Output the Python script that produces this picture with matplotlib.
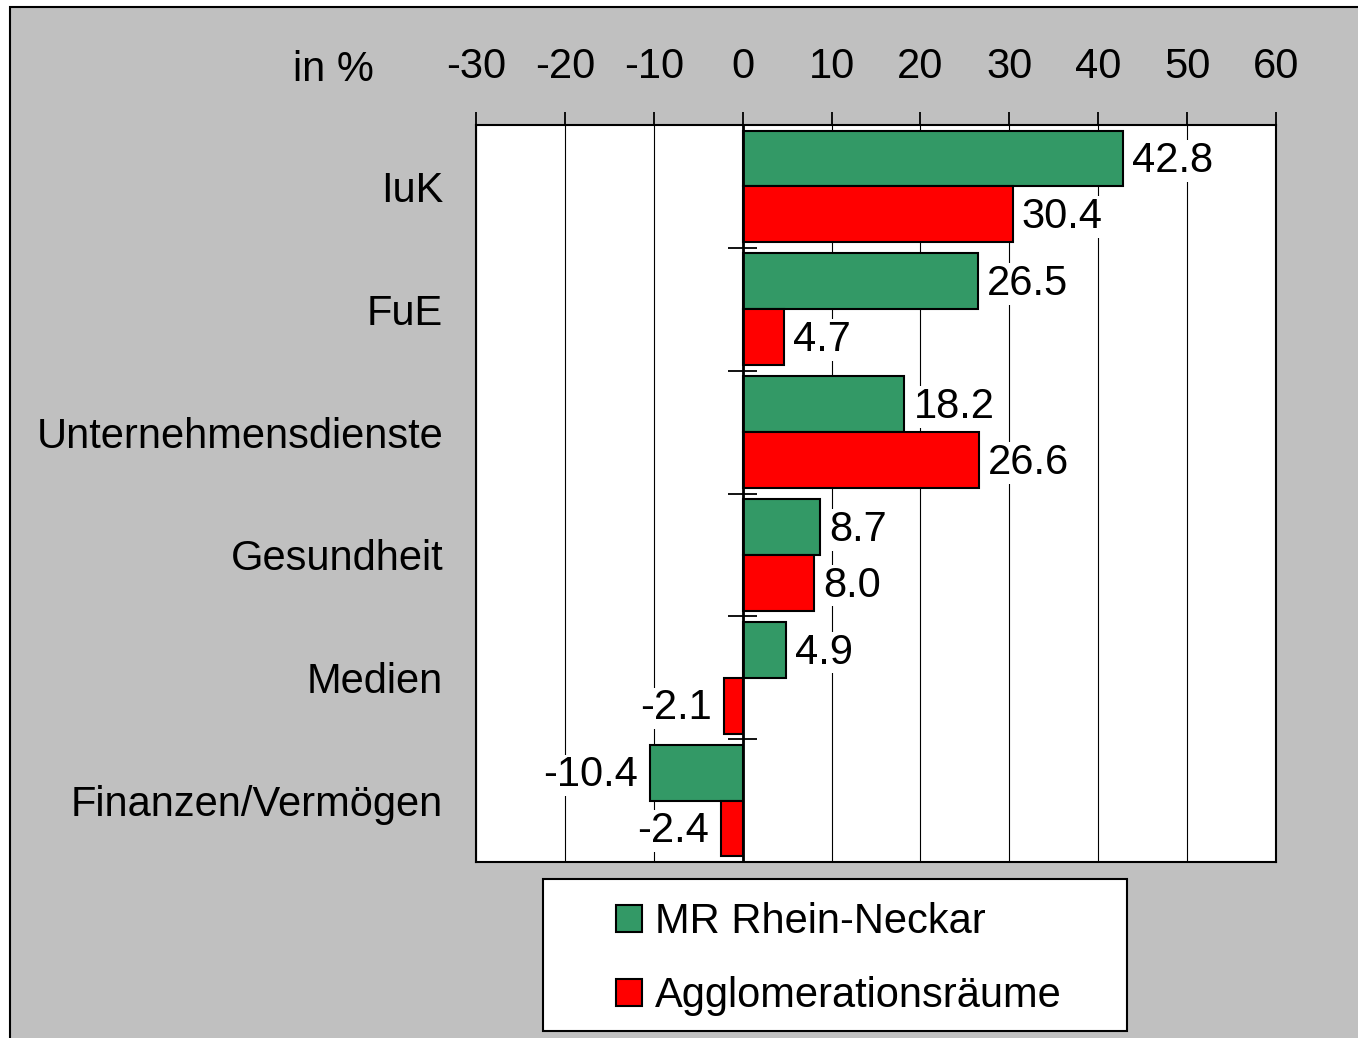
import matplotlib
matplotlib.use("Agg")
import matplotlib.pyplot as plt
from matplotlib.patches import Rectangle
import numpy as np

categories = ["IuK", "FuE", "Unternehmensdienste", "Gesundheit", "Medien", "Finanzen/Vermögen"]
mr_rhein_neckar = [42.8, 26.5, 18.2, 8.7, 4.9, -10.4]
agglomeration = [30.4, 4.7, 26.6, 8.0, -2.1, -2.4]
series_names = ["MR Rhein-Neckar", "Agglomerationsräume"]
xticks = [-30, -20, -10, 0, 10, 20, 30, 40, 50, 60]

GREEN = "#339966"
RED = "#FF0000"
FS = 30

plt.rcParams['font.family'] = ['Liberation Sans', 'DejaVu Sans']

W, H = 1358, 1038
fig = plt.figure(figsize=(W / 100, H / 100), dpi=100, facecolor="white")

# grey chart area with border
fig.patches.append(Rectangle((10 / W, -0.05), 1.2, 1 - 7 / H + 0.05, transform=fig.transFigure,
                             facecolor="#C0C0C0", edgecolor="black", linewidth=1.5, zorder=-5))

ax = fig.add_axes([476 / W, 1 - 862 / H, 800 / W, 737 / H])
ax.set_facecolor("white")

y = np.arange(len(categories))
h = 0.455
b1 = ax.barh(y - h / 2, mr_rhein_neckar, height=h, color=GREEN, edgecolor="black",
             linewidth=1.5, label=series_names[0], zorder=3)
b2 = ax.barh(y + h / 2, agglomeration, height=h, color=RED, edgecolor="black",
             linewidth=1.5, label=series_names[1], zorder=3)

ax.set_xlim(-30, 60)
ax.set_ylim(len(categories) - 0.5, -0.5)

ax.xaxis.tick_top()
ax.set_xticks(xticks)
ax.set_xticklabels([str(t) for t in xticks], fontsize=FS)
ax.tick_params(axis='x', direction='out', length=9.5, width=1.3, pad=18)
ax.set_yticks(y)
ax.set_yticklabels(categories, fontsize=FS)
ax.tick_params(axis='y', length=0, pad=23.5)

ax.grid(axis='x', color='black', linewidth=0.8, zorder=1)
ax.set_axisbelow(True)
for s in ax.spines.values():
    s.set_linewidth(1.5)
    s.set_zorder(5)

# zero axis with category separator ticks
ax.axvline(0, color='black', linewidth=2, zorder=4)
bounds = np.arange(len(categories) + 1) - 0.5
ax.hlines(bounds, -1.6, 1.6, color='black', linewidth=1.3, zorder=4, clip_on=False)

for bars, vals in ((b1, mr_rhein_neckar), (b2, agglomeration)):
    for rect, v in zip(bars, vals):
        yc = rect.get_y() + rect.get_height() / 2
        off = 6.5 if v >= 0 else -9
        ax.annotate(f"{v:.1f}", xy=(v, yc), xytext=(off, -2), textcoords='offset points',
                    ha='left' if v >= 0 else 'right', va='center', fontsize=FS,
                    bbox=dict(facecolor='white', edgecolor='none', pad=0.5), zorder=6)

fig.text(333 / W, 1 - 70 / H, "in %", fontsize=FS, ha='center', va='center')

# legend
fig.patches.append(Rectangle((543 / W, 1 - 1031 / H), 584 / W, 152 / H, transform=fig.transFigure,
                             facecolor="white", edgecolor="black", linewidth=1.5, zorder=1))
leg = fig.legend(handles=[b1, b2], labels=series_names, loc='upper left',
                 bbox_to_anchor=(587 / W, 1 - 873 / H), frameon=False, fontsize=FS,
                 handlelength=0.63, handleheight=0.63, handletextpad=0.3,
                 labelspacing=0.82, borderpad=0.2)
leg.set_zorder(2)

fig.savefig("out.png", dpi=100, facecolor=fig.get_facecolor())
